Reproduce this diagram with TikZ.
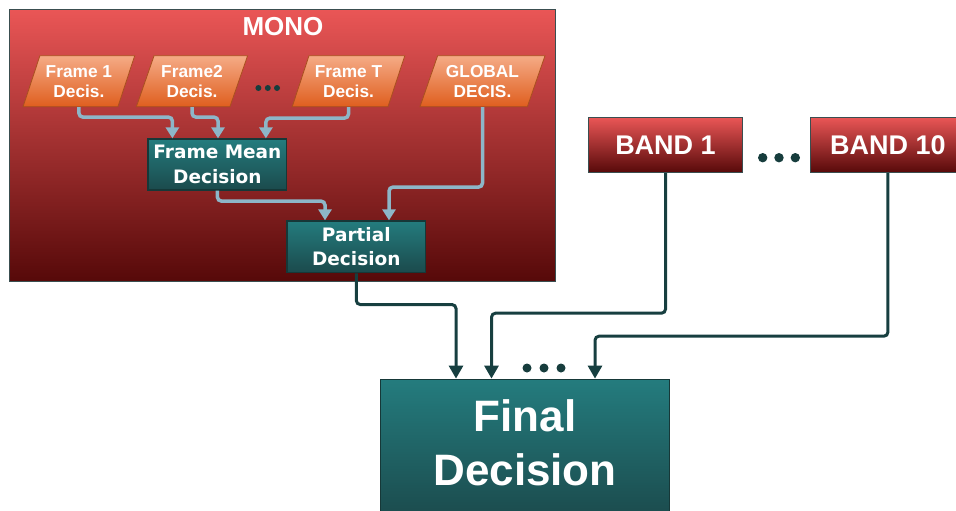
\documentclass[tikz,border=0pt]{standalone}
\usepackage{fontspec}
\setmainfont{Liberation Sans}
\newfontfamily\boxfont{DejaVu Sans}
\usetikzlibrary{shapes.geometric,arrows.meta}

\definecolor{redtop}{HTML}{EA5656}
\definecolor{redbot}{HTML}{560909}
\definecolor{rededge}{HTML}{3A4E50}
\definecolor{tealtop}{HTML}{247C7E}
\definecolor{tealbot}{HTML}{1B4A4C}
\definecolor{tealedge}{HTML}{163838}
\definecolor{orangetop}{HTML}{F5AB86}
\definecolor{orangebot}{HTML}{DF5E1E}
\definecolor{orangeedge}{HTML}{A9501E}
\definecolor{arrowlight}{HTML}{8DB6C8}
\definecolor{arrowdark}{HTML}{173F40}
\definecolor{dotcolor}{HTML}{173D3D}

\begin{document}
\begin{tikzpicture}[x=1pt,y=-1pt,
  redbox/.style={rectangle, draw=rededge, line width=1pt,
    top color=redtop, bottom color=redbot, inner sep=0pt},
  bandbox/.style={redbox, minimum width=154.4pt, minimum height=55.4pt,
    text=white, font=\bfseries\fontsize{27}{30}\selectfont},
  tealbox/.style={rectangle, draw=tealedge, line width=1.2pt,
    top color=tealtop, bottom color=tealbot, text=white, align=center,
    inner sep=0pt, font=\boxfont\bfseries\fontsize{18.5}{24.5}\selectfont},
  decis/.style={trapezium, trapezium left angle=66, trapezium right angle=114,
    trapezium stretches=true, draw=orangeedge, line width=0.8pt,
    top color=orangetop, bottom color=orangebot, text=white, align=center,
    inner sep=0pt, minimum height=51pt,
    font=\bfseries\fontsize{17.3}{20}\selectfont},
  lightarrow/.style={draw=arrowlight, line width=3.5pt, rounded corners=4pt,
    -{Triangle[width=13pt,length=11pt]}},
  darkarrow/.style={draw=arrowdark, line width=3pt, rounded corners=4pt,
    -{Triangle[width=14pt,length=13pt]}}
]
\useasboundingbox (0,0) rectangle (956,511);
\clip (0,0) rectangle (956,511);

% MONO container
\node[redbox, minimum width=546pt, minimum height=272.5pt] (mono) at (282,145.3) {};
\node[anchor=base, text=white, font=\bfseries\fontsize{26}{30}\selectfont]
  (monolabel) at (283,36) {MONO};

% per-frame and global decisions
\node[decis, minimum width=112pt] (f1) at (78.9,81.2) {Frame 1\\Decis.};
\node[decis, minimum width=112pt] (f2) at (192,81.2) {Frame2\\Decis.};
\node[decis, minimum width=113pt] (fT) at (348.5,81.2) {Frame T\\Decis.};
\node[decis, minimum width=125pt] (gl) at (482.5,81.2) {GLOBAL\\DECIS.};
\fill[dotcolor] (258.4,88) circle (3pt) (267.8,88) circle (3pt) (277,88) circle (3pt);

% intermediate decisions
\node[tealbox, minimum width=138.7pt, minimum height=51pt] (fm) at (217.4,164.5)
  {Frame Mean\\Decision};
\node[tealbox, minimum width=138.7pt, minimum height=51.7pt] (pd) at (356.3,246.8)
  {Partial\\Decision};

% bands
\node[bandbox] (b1) at (665.5,145) {BAND 1};
\node[bandbox] (b10) at (887.9,145) {BAND 10};
\fill[dotcolor] (762.7,157.7) circle (4.7pt) (779,157.7) circle (4.7pt) (795.3,157.7) circle (4.7pt);

% final decision
\node[tealbox, minimum width=288.3pt, minimum height=141pt,
  font=\bfseries\fontsize{44}{54.3}\selectfont] (fd) at (525,449.7)
  {Final\\Decision\rule[-13.7pt]{0pt}{13.7pt}};
\fill[dotcolor] (527,368) circle (4.5pt) (544,368) circle (4.5pt) (561,368) circle (4.5pt);

% connectors inside MONO
\draw[lightarrow] (f1.center |- f1.south) -- ++(0,10) -| ([xshift=-45pt]fm.north);
\draw[lightarrow] (f2.center |- f2.south) -- ++(0,10) -| ([xshift=0.6pt]fm.north);
\draw[lightarrow] (fT.center |- fT.south) -- ++(0,11) -| ([xshift=48.5pt]fm.north);
\draw[lightarrow] (fm.south) -- ++(0,10.5) -| ([xshift=-31.3pt]pd.north);
\draw[lightarrow] (gl.center |- gl.south) -- ++(0,80) -| ([xshift=32.7pt]pd.north);

% connectors to the final decision
\draw[darkarrow] (pd.south) -- ++(0,31.3) -| ([xshift=-69pt]fd.north);
\draw[darkarrow] (b1.south) -- ++(0,140) -| ([xshift=-33.5pt]fd.north);
\draw[darkarrow] (b10.south) -- ++(0,163) -| ([xshift=70pt]fd.north);
\end{tikzpicture}
\end{document}
